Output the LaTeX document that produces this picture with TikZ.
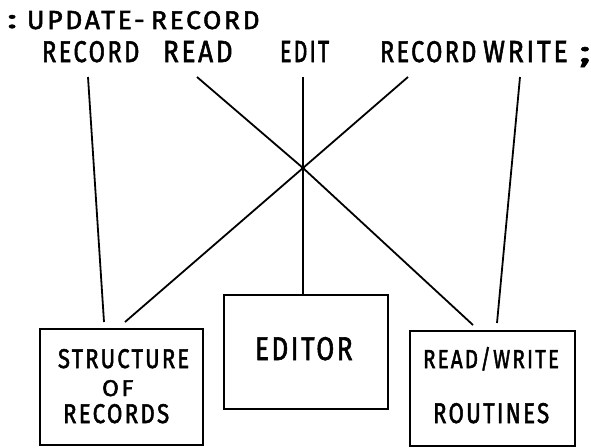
\documentclass[tikz,border=0pt]{standalone}
\usepackage{fontspec}
\setmainfont{Fira Sans}
\newfontfamily\hwfont{Fira Sans}[LetterSpace=10, FakeBold=2]
\usepackage{graphicx}
\newcommand\hwtxt[3]{\resizebox{#1pt}{#2pt}{\hwfont #3\kern-0.1em}}
\begin{document}
\begin{tikzpicture}[x=1pt,y=-1pt,
  lbl/.style={anchor=base west, inner sep=0pt, outer sep=0pt},
  modbox/.style={draw, line width=2.6pt, inner sep=0pt, outer sep=0pt},
  conn/.style={line width=1.8pt, line join=round}]
\useasboundingbox (0,0) rectangle (591,447);

% heading
\node[lbl] (colon) at (7,28) {\hwtxt{6}{13}{:}};
\node[lbl] (upd) at (27,29) {\hwtxt{115}{18}{UPDATE-}};
\node[lbl] (rec0) at (151,29) {\hwtxt{106}{18}{RECORD}};

% definition words
\node[lbl] (w1) at (42,62) {\hwtxt{95}{21}{RECORD}};
\node[lbl] (w2) at (163,62) {\hwtxt{67}{21}{READ}};
\node[lbl] (w3) at (280,62) {\hwtxt{47}{21}{EDIT}};
\node[lbl] (w4) at (380,62) {\hwtxt{94}{21}{RECORD}};
\node[lbl] (w5) at (483,62) {\hwtxt{82}{21}{WRITE}};
\node[lbl] (semi) at (579,62) {\hwtxt{7}{15}{;}};

% boxes
\node[modbox, minimum width=163pt, minimum height=116pt] (sbox) at (121.5,387) {};
\node[modbox, minimum width=164pt, minimum height=114pt] (ebox) at (306,352) {};
\node[modbox, minimum width=165pt, minimum height=115pt] (rbox) at (492.5,388.5) {};

% box texts
\node[lbl] (s1) at (58,368) {\hwtxt{129}{19}{STRUCTURE}};
\node[lbl] (s2) at (102,396) {\hwtxt{29}{16}{OF}};
\node[lbl] (s3) at (63,423) {\hwtxt{104}{19}{RECORDS}};
\node[lbl] (e1) at (255,360) {\hwtxt{95}{23}{EDITOR}};
\node[lbl] (r1) at (423,368) {\hwtxt{134}{21}{READ/WRITE}};
\node[lbl] (r2) at (433,423) {\hwtxt{114}{20}{ROUTINES}};

% connector end points
\coordinate (a1) at (88,77);   \coordinate (a2) at (104,322);
\coordinate (b1) at (197,77);  \coordinate (b2) at (473,325);
\coordinate (c1) at (303,77);
\coordinate (d1) at (408,77);  \coordinate (d2) at (125,322);
\coordinate (f1) at (520,77);  \coordinate (f2) at (497,323);
\coordinate (X) at (303,168);

\draw[conn] (a1) -- (a2);
\draw[conn] (b1) -- (X) -- (b2);
\draw[conn] (c1) -- (c1 |- ebox.north);
\draw[conn] (d1) -- (X) -- (d2);
\draw[conn] (f1) -- (f2);
\fill (X) circle (2.2pt);
\end{tikzpicture}
\end{document}
